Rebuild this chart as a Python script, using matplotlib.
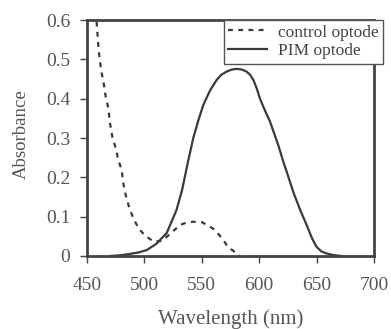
import matplotlib
matplotlib.use('Agg')
import matplotlib.pyplot as plt

# control optode (dashed)
control_wl = [458.4, 460, 461.3, 462.8, 464.8, 466.3, 468.6, 470, 472, 475, 477.3, 480.2, 481.6,
              483.7, 486.6, 490.3, 495, 500.5, 507.8, 515, 522, 531, 537, 542.6, 550, 557, 561.5,
              568.7, 571.6, 576, 580.4, 583]
control_abs = [0.596, 0.528, 0.494, 0.465, 0.435, 0.405, 0.376, 0.338, 0.304, 0.274, 0.244, 0.219,
               0.185, 0.155, 0.125, 0.096, 0.07, 0.052, 0.037, 0.038, 0.055, 0.079, 0.085, 0.087,
               0.086, 0.075, 0.066, 0.041, 0.028, 0.016, 0.007, 0.0]

# PIM optode (solid)
pim_wl = [470, 480, 487, 495, 502, 510, 519.4, 528, 533, 538, 542.6, 547, 551.3, 557, 563, 567,
          571.7, 576, 580.4, 585, 589, 592, 594.9, 598, 600.7, 605, 609.4, 613, 616.6, 621, 625,
          630, 636, 642, 646, 650, 654, 658, 665, 672]
pim_abs = [0.0, 0.002, 0.005, 0.009, 0.015, 0.03, 0.058, 0.117, 0.17, 0.24, 0.30, 0.345, 0.384,
           0.42, 0.448, 0.461, 0.469, 0.474, 0.476, 0.474, 0.469, 0.461, 0.448, 0.425, 0.40, 0.37,
           0.342, 0.312, 0.282, 0.24, 0.205, 0.16, 0.115, 0.074, 0.045, 0.023, 0.012, 0.007,
           0.002, 0.0]

plt.rcParams['font.family'] = 'Liberation Serif'

fig = plt.figure(figsize=(3.91, 3.29), dpi=100)
ax = fig.add_axes([0.2225, 0.222, 0.734, 0.717])

ax.plot(control_wl, control_abs, color='#3a3a3a', lw=1.6, linestyle=(0, (2.2, 2.4)),
        label='control optode')
ax.plot(pim_wl, pim_abs, color='#3a3a3a', lw=1.6, label='PIM optode')

ax.set_xlim(450, 700)
ax.set_ylim(0, 0.6)
ax.set_xticks([450, 500, 550, 600, 650, 700])
ax.set_yticks([0, 0.1, 0.2, 0.3, 0.4, 0.5, 0.6])
ax.set_yticklabels(['0', '0.1', '0.2', '0.3', '0.4', '0.5', '0.6'])
ax.tick_params(direction='out', length=5, width=1, colors='#444444', labelsize=14,
               labelcolor='#555555')
ax.tick_params(axis='y', pad=7)
ax.tick_params(axis='x', pad=10)
for s in ax.spines.values():
    s.set_linewidth(2)
    s.set_color('#444444')

ax.set_xlabel('Wavelength (nm)', fontsize=15, color='#555555')
ax.set_ylabel('Absorbance', fontsize=13.5, color='#555555')
ax.xaxis.set_label_coords(0.5, -0.225)
ax.yaxis.set_label_coords(-0.2, 0.517)

leg = ax.legend(loc='upper right', bbox_to_anchor=(1.031, 1.0), borderaxespad=0,
                fancybox=False, framealpha=1, edgecolor='#555555', fontsize=12.5,
                handlelength=2.25, handletextpad=0.6, borderpad=0.25, labelspacing=0.15)
leg.get_frame().set_linewidth(1)
for t in leg.get_texts():
    t.set_color('#444444')

fig.savefig('out.png', dpi=100)
